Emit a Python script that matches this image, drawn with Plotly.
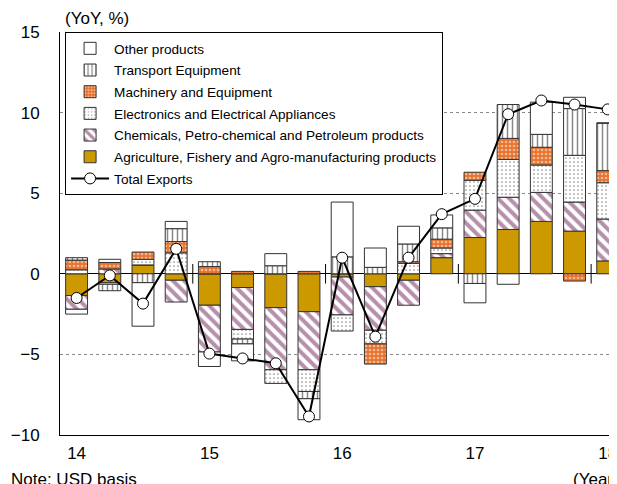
import plotly.graph_objects as go

# Quarterly contributions to YoY export growth (%), 2014Q1 - 2018Q1
years = [14, 14, 14, 14, 15, 15, 15, 15, 16, 16, 16, 16, 17, 17, 17, 17, 18]
quarters = [1, 2, 3, 4, 1, 2, 3, 4, 1, 2, 3, 4, 1, 2, 3, 4, 1]

agri = [-1.35, -0.55, 0.55, -0.4, -1.95, -0.85, -2.1, -2.35, -0.2, -0.8, -0.4, 1.0, 2.25, 2.75, 3.25, 2.65, 0.8]
chem = [-0.85, 0.3, 0.0, -1.35, -2.9, -2.6, -3.85, -3.6, -2.35, -2.7, -1.55, 0.25, 1.7, 2.0, 1.8, 1.8, 2.6]
elec = [0.25, -0.1, 0.35, 1.3, 0.0, -0.6, -0.85, -1.35, -1.0, -0.85, 0.65, 0.35, 1.85, 2.35, 1.7, 2.9, 2.25]
mach = [0.6, 0.4, 0.45, 0.7, 0.45, 0.15, 0.0, 0.15, 0.0, -1.25, 0.1, 0.55, 0.5, 1.3, 1.1, -0.45, 0.75]
trans = [0.15, -0.4, -0.55, 0.8, 0.3, -0.3, 0.5, -0.45, 1.05, 0.4, 1.1, 0.7, -0.6, 2.1, 0.8, 2.9, 2.95]
other = [-0.3, 0.2, -2.7, 0.45, -0.9, -1.05, 0.75, -1.3, 3.4, 1.2, 1.1, 0.8, -1.2, -0.65, 2.0, 0.7, 0.0]
total = [-1.5, -0.1, -1.85, 1.55, -4.95, -5.25, -5.55, -8.85, 1.0, -3.9, 1.0, 3.7, 4.65, 9.9, 10.75, 10.5, 10.2]

x = list(range(len(years)))
year_ticks = [i for i, q in enumerate(quarters) if q == 1]
year_labels = [str(years[i]) for i in year_ticks]
year_breaks = [i - 0.5 for i in year_ticks if i > 0]

FONT = "Liberation Sans, Arial, sans-serif"
edge = dict(color="#333333", width=1)

series = [
    ("Agriculture, Fishery and Agro-manufacturing products", agri,
     dict(color="#CC9900", line=edge), 6),
    ("Chemicals, Petro-chemical and Petroleum products", chem,
     dict(color="white", line=edge,
          pattern=dict(shape="\\", fgcolor="#6E1F55", bgcolor="white", size=8, solidity=0.5)), 5),
    ("Electronics and Electrical Appliances", elec,
     dict(color="white", line=edge,
          pattern=dict(shape=".", fgcolor="#222222", bgcolor="white", size=4, solidity=0.15)), 4),
    ("Machinery and Equipment", mach,
     dict(color="#E8732E", line=edge,
          pattern=dict(shape=".", fgcolor="white", bgcolor="#E8732E", size=4, solidity=0.35)), 3),
    ("Transport Equipment", trans,
     dict(color="white", line=edge,
          pattern=dict(shape="|", fgcolor="#111111", bgcolor="white", size=5, solidity=0.3)), 2),
    ("Other products", other,
     dict(color="white", line=edge), 1),
]

fig = go.Figure()
for name, vals, marker, rank in series:
    fig.add_trace(go.Bar(x=x, y=vals, name=name, marker=marker, width=0.66,
                         legendrank=rank, legendgroup=name))

fig.add_trace(go.Scatter(
    x=x, y=total, name="Total Exports", mode="lines+markers",
    line=dict(color="black", width=2),
    marker=dict(symbol="circle", size=11, color="white", line=dict(color="black", width=1)),
    legendrank=7, legendgroup="total",
))

# small year-boundary ticks on the zero line
fig.add_trace(go.Scatter(
    x=year_breaks, y=[0] * len(year_breaks), mode="markers", showlegend=False,
    hoverinfo="skip",
    marker=dict(symbol="line-ns", size=14, line=dict(color="black", width=1)),
))

# the page body adds an 8px offset, so the layout is placed 8px up/left
fig.update_layout(
    width=617, height=484,
    margin=dict(l=52, r=0, t=24, b=57, autoexpand=False),
    barmode="relative",
    bargap=0.34,
    paper_bgcolor="white",
    plot_bgcolor="white",
    font=dict(family=FONT, color="black", size=17),
    showlegend=True,
    legend=dict(
        x=0.009, y=1.0, xanchor="left", yanchor="top",
        traceorder="grouped", tracegroupgap=1,
        bgcolor="white", bordercolor="black", borderwidth=1,
        font=dict(family=FONT, size=13.6, color="black"),
        itemwidth=38,
    ),
    xaxis=dict(
        range=[-0.5, 16.52],
        tickvals=year_ticks, ticktext=year_labels,
        showgrid=False, zeroline=False,
        showline=True, linecolor="black", linewidth=1,
        ticks="outside", ticklen=3, tickcolor="rgba(0,0,0,0)",
        tickfont=dict(size=17),
        automargin=False, ticklabeloverflow="allow",
    ),
    yaxis=dict(
        range=[-10, 15], tickvals=[-10, -5, 0, 5, 10, 15],
        showgrid=False,
        zeroline=True, zerolinecolor="black", zerolinewidth=1,
        showline=True, linecolor="black", linewidth=1,
        ticks="outside", ticklen=16, tickcolor="rgba(0,0,0,0)",
        tickfont=dict(size=17),
        automargin=False,
    ),
    yaxis2=dict(
        range=[-10, 15], overlaying="y", tickvals=[-5, 5, 10],
        showgrid=True, gridcolor="#888888", griddash="dot", gridwidth=1,
        showticklabels=False, zeroline=False, automargin=False,
    ),
    annotations=[
        dict(text="(YoY, %)", xref="paper", yref="paper", x=0.005, y=1.0,
             xanchor="left", yanchor="bottom", yshift=2, showarrow=False,
             font=dict(size=17)),
        dict(text="Note: USD basis", xref="paper", yref="paper", x=-0.09, y=0,
             xanchor="left", yanchor="top", yshift=-33, showarrow=False,
             font=dict(size=17)),
        dict(text="(Year)", xref="paper", yref="paper", x=0.904, y=0,
             xanchor="left", yanchor="top", yshift=-33, showarrow=False,
             font=dict(size=17)),
    ],
)

# dummy trace to activate the grid axis
fig.add_trace(go.Scatter(x=[None], y=[None], yaxis="y2", showlegend=False, hoverinfo="skip"))

fig.write_html("out.html")
